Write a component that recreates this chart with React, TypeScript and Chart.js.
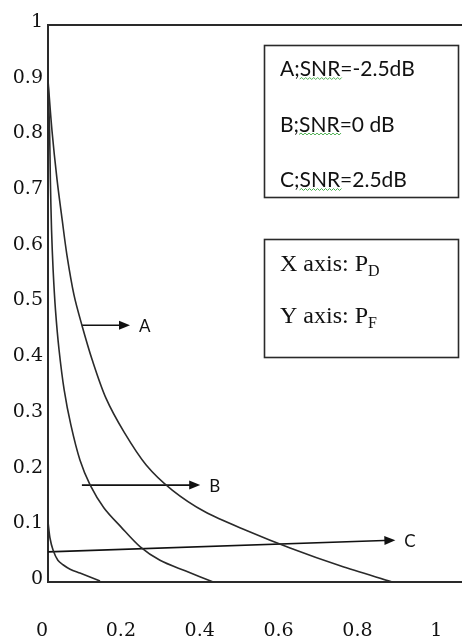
import React, { useEffect, useRef } from "react";
import { Chart, registerables } from "chart.js";

Chart.register(...registerables);

// ---- tick values / labels ----
const xTickValues = [0, 0.2, 0.4, 0.6, 0.8, 1];
const xTickLabels = ["0", "0.2", "0.4", "0.6", "0.8", "1"];
const yTickValues = [0, 0.1, 0.2, 0.3, 0.4, 0.5, 0.6, 0.7, 0.8, 0.9, 1];
const yTickLabels = ["0", "0.1", "0.2", "0.3", "0.4", "0.5", "0.6", "0.7", "0.8", "0.9", "1"];

// ---- curve A (SNR = -2.5 dB) ----
const curveAx = [0, 0.01, 0.023, 0.036, 0.048, 0.066, 0.086, 0.112, 0.147, 0.193, 0.249, 0.315, 0.398, 0.505, 0.614, 0.741, 0.873];
const curveAy = [0.901, 0.811, 0.722, 0.65, 0.587, 0.515, 0.461, 0.399, 0.33, 0.269, 0.21, 0.165, 0.126, 0.092, 0.061, 0.029, 0];

// ---- curve B (SNR = 0 dB) ----
const curveBx = [0, 0.004, 0.006, 0.009, 0.013, 0.019, 0.028, 0.041, 0.058, 0.081, 0.107, 0.142, 0.185, 0.234, 0.284, 0.348, 0.419];
const curveBy = [0.901, 0.811, 0.722, 0.632, 0.56, 0.488, 0.417, 0.345, 0.282, 0.219, 0.174, 0.133, 0.099, 0.063, 0.039, 0.02, 0];

// ---- curve C (SNR = 2.5 dB) ----
const curveCx = [0, 0.005, 0.013, 0.025, 0.038, 0.056, 0.081, 0.132];
const curveCy = [0.108, 0.079, 0.057, 0.039, 0.031, 0.023, 0.016, 0.002];

// ---- pointer arrows ----
const arrowNames = ["A", "B", "C"];
const arrowStartX = [0.086, 0.086, 0];
const arrowStartY = [0.461, 0.174, 0.054];
const arrowEndX = [0.208, 0.386, 0.881];
const arrowEndY = [0.461, 0.174, 0.075];

// ---- legend texts ----
const legendLines = ["A;SNR=-2.5dB", "B;SNR=0 dB", "C;SNR=2.5dB"];
const axisNoteMain = ["X axis: P", "Y axis: P"];
const axisNoteSub = ["D", "F"];

const toPts = (xs: number[], ys: number[]) => xs.map((x, i) => ({ x, y: ys[i] }));

const INK = "#2a2a2a";

const overlayPlugin = {
  id: "overlay",
  afterDatasetsDraw(chart: any) {
    const { ctx, chartArea, scales } = chart;
    const xs = scales.x;
    const ys = scales.y;
    ctx.save();
    // top frame line
    ctx.strokeStyle = INK;
    ctx.lineWidth = 2;
    ctx.beginPath();
    ctx.moveTo(chartArea.left - 1, chartArea.top);
    ctx.lineTo(chartArea.right, chartArea.top);
    ctx.stroke();

    // arrow heads + labels
    arrowNames.forEach((name, i) => {
      const x0 = xs.getPixelForValue(arrowStartX[i]);
      const y0 = ys.getPixelForValue(arrowStartY[i]);
      const x1 = xs.getPixelForValue(arrowEndX[i]);
      const y1 = ys.getPixelForValue(arrowEndY[i]);
      const ang = Math.atan2(y1 - y0, x1 - x0);
      const L = 11, W = 4.5;
      ctx.fillStyle = "#111";
      ctx.beginPath();
      ctx.moveTo(x1, y1);
      ctx.lineTo(x1 - L * Math.cos(ang) + W * Math.sin(ang), y1 - L * Math.sin(ang) - W * Math.cos(ang));
      ctx.lineTo(x1 - L * Math.cos(ang) - W * Math.sin(ang), y1 - L * Math.sin(ang) + W * Math.cos(ang));
      ctx.closePath();
      ctx.fill();
      ctx.font = "17px Lato";
      ctx.textAlign = "left";
      ctx.textBaseline = "middle";
      ctx.fillStyle = "#111";
      ctx.fillText(name, x1 + 9, y1 + 1);
    });

    // legend box 1
    ctx.strokeStyle = INK;
    ctx.lineWidth = 1.6;
    ctx.strokeRect(264.5, 45.5, 194, 152);
    ctx.textAlign = "left";
    ctx.textBaseline = "alphabetic";
    legendLines.forEach((t, i) => {
      const bx = 280;
      const by = 76 + i * 55.5;
      ctx.font = "21px Lato";
      ctx.fillStyle = "#111";
      ctx.fillText(t, bx, by);
      // spell-check squiggle under "SNR"
      const pre = ctx.measureText(t.slice(0, 2)).width;
      const w = ctx.measureText("SNR").width;
      ctx.strokeStyle = "#4caf50";
      ctx.lineWidth = 1;
      ctx.beginPath();
      let sx = bx + pre;
      let up = true;
      ctx.moveTo(sx, by + 3);
      while (sx < bx + pre + w) {
        sx += 2;
        ctx.lineTo(sx, up ? by + 1.5 : by + 3.5);
        up = !up;
      }
      ctx.stroke();
    });

    // legend box 2
    ctx.strokeStyle = INK;
    ctx.lineWidth = 1.6;
    ctx.strokeRect(264.5, 239.5, 194, 118);
    axisNoteMain.forEach((t, i) => {
      const bx = 280;
      const by = 271 + i * 52;
      ctx.fillStyle = "#111";
      ctx.font = "24px 'Liberation Serif'";
      ctx.fillText(t, bx, by);
      const w = ctx.measureText(t).width;
      ctx.font = "16px 'Liberation Serif'";
      ctx.fillText(axisNoteSub[i], bx + w, by + 5);
    });
    ctx.restore();
  },
};

export default function App() {
  const ref = useRef<HTMLCanvasElement | null>(null);
  useEffect(() => {
    if (!ref.current) return;
    const curveStyle = {
      borderColor: INK,
      borderWidth: 1.6,
      pointRadius: 0,
      fill: false,
      tension: 0.3,
    };
    const arrowStyle = {
      borderColor: "#111",
      borderWidth: 1.6,
      pointRadius: 0,
      fill: false,
      tension: 0,
    };
    const chart = new Chart(ref.current, {
      type: "line",
      data: {
        datasets: [
          { label: "A", data: toPts(curveAx, curveAy), ...curveStyle },
          { label: "B", data: toPts(curveBx, curveBy), ...curveStyle },
          { label: "C", data: toPts(curveCx, curveCy), ...curveStyle },
          ...arrowNames.map((n, i) => ({
            label: "arrow " + n,
            data: [
              { x: arrowStartX[i], y: arrowStartY[i] },
              { x: arrowEndX[i] - 0.01, y: arrowEndY[i] },
            ],
            ...arrowStyle,
          })),
        ],
      },
      options: {
        animation: false,
        responsive: false,
        maintainAspectRatio: false,
        layout: { padding: { top: 25, right: 0, left: 0, bottom: 0 } },
        plugins: { legend: { display: false }, tooltip: { enabled: false } },
        scales: {
          x: {
            type: "linear",
            min: 0,
            max: 1.05,
            grid: { display: false, drawTicks: false },
            border: { display: true, color: INK, width: 2 },
            afterBuildTicks: (axis: any) => {
              axis.ticks = xTickValues.map((v) => ({ value: v }));
            },
            afterFit: (axis: any) => {
              axis.height = 59;
              axis.paddingLeft = 0;
              axis.paddingRight = 0;
            },
            ticks: {
              padding: 38,
              labelOffset: -6,
              maxRotation: 0,
              autoSkip: false,
              color: "#111",
              font: { family: "DejaVu Serif", size: 19 },
              callback: (v: any) => {
                const i = xTickValues.findIndex((t) => Math.abs(t - Number(v)) < 1e-9);
                return i >= 0 ? xTickLabels[i] : "";
              },
            },
          },
          y: {
            type: "linear",
            min: 0,
            max: 1,
            grid: { display: false, drawTicks: false },
            border: { display: true, color: INK, width: 2 },
            afterBuildTicks: (axis: any) => {
              axis.ticks = yTickValues.map((v) => ({ value: v }));
            },
            afterFit: (axis: any) => {
              axis.width = 48;
              axis.paddingTop = 0;
              axis.paddingBottom = 0;
            },
            ticks: {
              padding: 5,
              labelOffset: -3,
              autoSkip: false,
              color: "#111",
              font: { family: "DejaVu Serif", size: 19 },
              callback: (v: any) => {
                const i = yTickValues.findIndex((t) => Math.abs(t - Number(v)) < 1e-9);
                return i >= 0 ? yTickLabels[i] : "";
              },
            },
          },
        },
      },
      plugins: [overlayPlugin],
    });
    return () => chart.destroy();
  }, []);
  return (
    <div style={{ position: "absolute", left: 0, top: 0, width: 462, height: 641, background: "#fff" }}>
      <canvas ref={ref} width={462} height={641} style={{ display: "block" }} />
    </div>
  );
}
